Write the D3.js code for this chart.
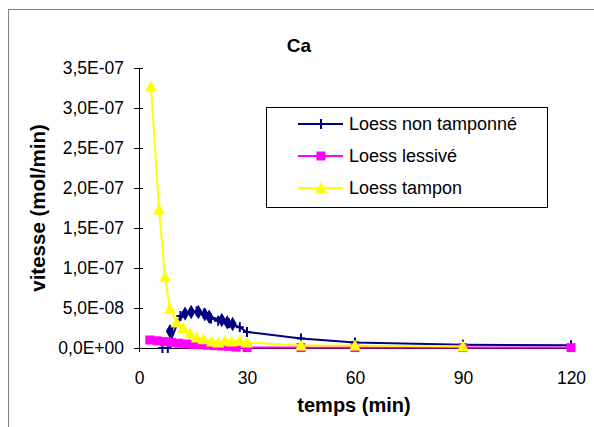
<!DOCTYPE html>
<html>
<head>
<meta charset="utf-8">
<script src="https://cdn.jsdelivr.net/npm/d3@7"></script>
<style>
body { margin: 0; background: #fff; }
text { font-family: "Liberation Sans", Arial, sans-serif; }
</style>
</head>
<body>
<script>
var width = 594, height = 427;

// data (vitesse in mol/min, temps in min)
var tNonTamp = [6.5, 8, 11.5, 16, 18, 20, 22, 25, 28, 30, 45, 60, 90, 120];
var vNonTamp = [0, 0, 4.0e-8, 4.6e-8, 4.3e-8, 3.7e-8, 3.4e-8, 3.1e-8, 2.6e-8, 2.0e-8, 1.2e-8, 0.7e-8, 0.4e-8, 0.35e-8];
var tNonTampB = [8.6, 12.8, 14.5, 16.5, 18.3, 19.5, 23, 24.5, 26];
var vNonTampB = [2.1e-8, 4.3e-8, 4.5e-8, 4.5e-8, 4.2e-8, 3.9e-8, 3.5e-8, 3.2e-8, 3.0e-8];
var tLessive = [3, 5, 7, 9, 11, 13, 15, 17, 19, 21, 23, 25, 27, 30, 45, 60, 90, 120];
var vLessive = [1.0e-8, 0.9e-8, 0.8e-8, 0.7e-8, 0.6e-8, 0.5e-8, 0.45e-8, 0.4e-8, 0.35e-8, 0.3e-8, 0.25e-8, 0.2e-8, 0.1e-8, 0.05e-8, 0.05e-8, 0.05e-8, 0.05e-8, 0.05e-8];
var tTampon = [3.3, 5.6, 7.2, 8.6, 10.5, 12.3, 14.2, 16, 17.9, 20.2, 22, 23.9, 25.7, 28, 29.9, 45, 60, 90];
var vTampon = [3.27e-7, 1.73e-7, 8.9e-8, 4.9e-8, 3.2e-8, 2.5e-8, 1.8e-8, 1.3e-8, 1.1e-8, 0.8e-8, 0.7e-8, 0.9e-8, 0.8e-8, 0.9e-8, 0.7e-8, 0.3e-8, 0.3e-8, 0.2e-8];
var xTicks = [0, 30, 60, 90, 120];
var yTicks = [0, 5e-8, 1e-7, 1.5e-7, 2e-7, 2.5e-7, 3e-7, 3.5e-7];
var yTickLabels = ["0,0E+00", "5,0E-08", "1,0E-07", "1,5E-07", "2,0E-07", "2,5E-07", "3,0E-07", "3,5E-07"];
var legendNames = ["Loess non tamponné", "Loess lessivé", "Loess tampon"];

var svg = d3.select("body").append("svg")
    .attr("width", width)
    .attr("height", height);

// chart frame
svg.append("rect")
    .attr("x", 8.5).attr("y", 9.5)
    .attr("width", 700).attr("height", 600)
    .attr("fill", "none")
    .attr("stroke", "#808080")
    .attr("stroke-width", 1);

var x = d3.scaleLinear().domain([0, 120]).range([139, 571]);
var y = d3.scaleLinear().domain([0, 3.5e-7]).range([348, 68]);

// axes
var xAxis = svg.append("g")
    .attr("transform", "translate(0,348)")
    .call(d3.axisBottom(x).tickValues(xTicks).tickSize(4).tickSizeOuter(0));
xAxis.select(".domain").attr("stroke", "#000");
xAxis.selectAll(".tick line").attr("y1", -4).attr("y2", 4);
xAxis.selectAll(".tick text")
    .attr("y", 24)
    .style("font-size", "17.5px")
    .style("font-family", "Liberation Sans, Arial, sans-serif");

var yAxis = svg.append("g")
    .attr("transform", "translate(139,0)")
    .call(d3.axisLeft(y).tickValues(yTicks).tickSize(4).tickSizeOuter(0)
        .tickFormat(function(d, i) { return yTickLabels[i]; }));
yAxis.select(".domain").attr("stroke", "#000");
yAxis.selectAll(".tick line").attr("x1", -5).attr("x2", 4);
yAxis.selectAll(".tick text")
    .attr("x", -15)
    .style("font-size", "17.5px")
    .style("font-family", "Liberation Sans, Arial, sans-serif");

// titles
svg.append("text")
    .attr("x", 299).attr("y", 52)
    .attr("text-anchor", "middle")
    .style("font-size", "19px").style("font-weight", "bold")
    .text("Ca");

svg.append("text")
    .attr("x", 354).attr("y", 412)
    .attr("text-anchor", "middle")
    .style("font-size", "20px").style("font-weight", "bold")
    .text("temps (min)");

svg.append("text")
    .attr("transform", "translate(45,208) rotate(-90)")
    .attr("text-anchor", "middle")
    .style("font-size", "20.5px").style("font-weight", "bold")
    .text("vitesse (mol/min)");

var line = d3.line()
    .x(function(d) { return x(d[0]); })
    .y(function(d) { return y(d[1]); });

function pairs(ts, vs) { return ts.map(function(t, i) { return [t, vs[i]]; }); }

var navy = "#000080", magenta = "#ff00ff", yellow = "#ffff00";

function drawPlus(g, px, py) {
  g.append("line").attr("x1", px).attr("x2", px).attr("y1", py - 5).attr("y2", py + 5)
    .attr("stroke", navy).attr("stroke-width", 2);
  g.append("line").attr("x1", px - 4).attr("x2", px + 4).attr("y1", py).attr("y2", py)
    .attr("stroke", navy).attr("stroke-width", 2);
}

// series: non tamponné (diamonds run)
var dB = pairs(tNonTampB, vNonTampB);
var gB = svg.append("g");
gB.append("path").datum(dB).attr("d", line)
    .attr("fill", "none").attr("stroke", navy).attr("stroke-width", 2);
gB.selectAll("path.m").data(dB).enter().append("path")
    .attr("class", "m")
    .attr("d", d3.symbol().type(d3.symbolDiamond).size(60))
    .attr("transform", function(d) { return "translate(" + x(d[0]) + "," + y(d[1]) + ")"; })
    .attr("fill", navy);

// series: non tamponné
var dA = pairs(tNonTamp, vNonTamp);
var gA = svg.append("g");
gA.append("path").datum(dA).attr("d", line)
    .attr("fill", "none").attr("stroke", navy).attr("stroke-width", 2);
dA.forEach(function(d) { drawPlus(gA, x(d[0]), y(d[1])); });

// series: lessivé
var dL = pairs(tLessive, vLessive);
var gL = svg.append("g");
gL.append("path").datum(dL).attr("d", line)
    .attr("fill", "none").attr("stroke", magenta).attr("stroke-width", 2);
gL.selectAll("rect").data(dL).enter().append("rect")
    .attr("x", function(d) { return x(d[0]) - 4.5; })
    .attr("y", function(d) { return y(d[1]) - 4.5; })
    .attr("width", 9).attr("height", 9)
    .attr("fill", magenta);

// series: tampon
var dT = pairs(tTampon, vTampon);
var gT = svg.append("g");
gT.append("path").datum(dT).attr("d", line)
    .attr("fill", "none").attr("stroke", yellow).attr("stroke-width", 2);
gT.selectAll("path.m").data(dT).enter().append("path")
    .attr("class", "m")
    .attr("d", "M0,-6L6,5L-6,5Z")
    .attr("transform", function(d) { return "translate(" + x(d[0]) + "," + y(d[1]) + ")"; })
    .attr("fill", yellow);

// legend
var lg = svg.append("g");
lg.append("rect")
    .attr("x", 266.5).attr("y", 107.5)
    .attr("width", 281).attr("height", 100)
    .attr("fill", "#fff").attr("stroke", "#000").attr("stroke-width", 1);
var legendColors = [navy, magenta, yellow];
legendNames.forEach(function(name, i) {
  var ly = 124 + i * 32;
  lg.append("line").attr("x1", 298).attr("x2", 343).attr("y1", ly).attr("y2", ly)
    .attr("stroke", legendColors[i]).attr("stroke-width", 2);
  if (i === 0) drawPlus(lg, 321, ly);
  if (i === 1) lg.append("rect").attr("x", 316.5).attr("y", ly - 4.5).attr("width", 9).attr("height", 9).attr("fill", magenta);
  if (i === 2) lg.append("path").attr("d", "M0,-6L6,5L-6,5Z").attr("transform", "translate(321," + ly + ")").attr("fill", yellow);
  lg.append("text")
    .attr("x", 349).attr("y", ly + 6)
    .style("font-size", "18px")
    .text(name);
});
</script>
</body>
</html>
